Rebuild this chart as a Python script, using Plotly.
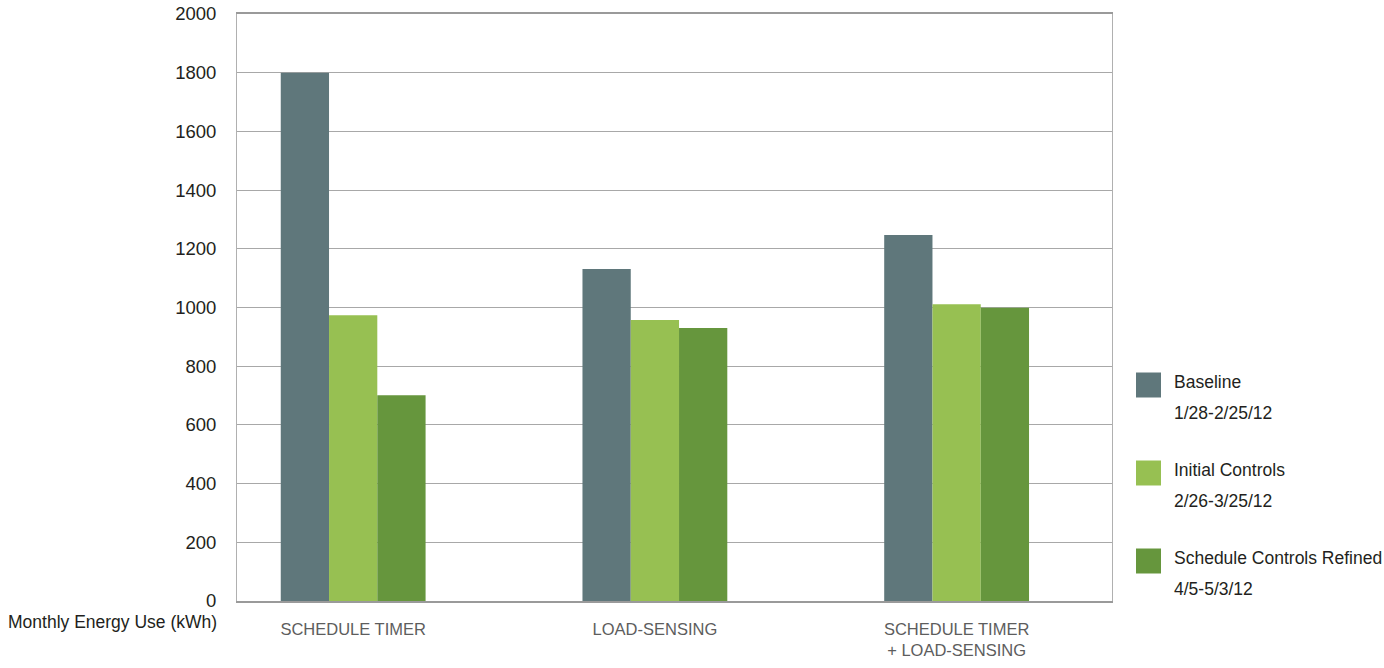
import plotly.graph_objects as go

# Monthly energy use (kWh) by control strategy and period
categories = ["SCHEDULE TIMER", "LOAD-SENSING", "SCHEDULE TIMER<br>+ LOAD-SENSING"]
series_names = ["Baseline", "Initial Controls", "Schedule Controls Refined"]
series_dates = ["1/28-2/25/12", "2/26-3/25/12", "4/5-5/3/12"]
baseline = [1800, 1131, 1247]
initial_controls = [974, 957, 1011]
controls_refined = [701, 930, 999]
y_ticks = [0, 200, 400, 600, 800, 1000, 1200, 1400, 1600, 1800, 2000]

colors = ["#5f777b", "#97c052", "#66963d"]
series_values = [baseline, initial_controls, controls_refined]

W, H = 1384, 668
L, R, T, B = 237, 272, 14, 67
plot_w, plot_h = W - L - R, H - T - B

fig = go.Figure()
for name, vals, col in zip(series_names, series_values, colors):
    fig.add_trace(go.Bar(x=categories, y=vals, name=name,
                         marker=dict(color=col, line=dict(width=0)),
                         showlegend=False))

text_font = "Liberation Sans, Arial, sans-serif"
dark = "#231f20"

# Custom legend on the right: square swatch + two-line label
shapes, annotations = [], []
def px_x(px):
    return (px - L) / plot_w
def px_y(py):
    return (H - B - py) / plot_h

for i, (name, date, col) in enumerate(zip(series_names, series_dates, colors)):
    cy = 385 + 88 * i
    shapes.append(dict(type="rect", xref="paper", yref="paper",
                       x0=px_x(1136), x1=px_x(1161),
                       y0=px_y(cy + 12.5), y1=px_y(cy - 12.5),
                       fillcolor=col, line=dict(width=0)))
    annotations.append(dict(xref="paper", yref="paper", x=px_x(1172), y=px_y(cy - 3),
                            text=name, showarrow=False, xanchor="left", yanchor="middle",
                            font=dict(family=text_font, size=17.5, color=dark)))
    annotations.append(dict(xref="paper", yref="paper", x=px_x(1172), y=px_y(cy + 28),
                            text=date, showarrow=False, xanchor="left", yanchor="middle",
                            font=dict(family=text_font, size=17.5, color=dark)))

annotations.append(dict(xref="paper", yref="paper", x=px_x(219), y=px_y(622),
                        text="Monthly Energy Use (kWh)", showarrow=False,
                        xanchor="right", yanchor="middle",
                        font=dict(family=text_font, size=17.5, color=dark)))

fig.update_layout(
    width=W, height=H,
    margin=dict(l=L, r=R, t=T, b=B, pad=0, autoexpand=False),
    paper_bgcolor="white", plot_bgcolor="white",
    barmode="group", bargap=0.52, bargroupgap=0,
    shapes=shapes, annotations=annotations,
    xaxis=dict(type="category", range=[-0.385, 2.515], automargin=False,
               showgrid=False, showline=True, linecolor="#9a9a9a", linewidth=1.5,
               mirror=True, ticks="", ticklabelstandoff=12,
               tickfont=dict(family=text_font, size=16.5, color="#5d5d5d")),
    yaxis=dict(range=[0, 2000], tickvals=y_ticks, automargin=False,
               showgrid=True, gridcolor="#a8a8a8", gridwidth=1,
               showline=True, linecolor="#b0b0b0", linewidth=1, mirror=True,
               zeroline=False, ticks="", ticklabelstandoff=16,
               tickfont=dict(family=text_font, size=18.5, color=dark)),
)

fig.write_html("out.html")
